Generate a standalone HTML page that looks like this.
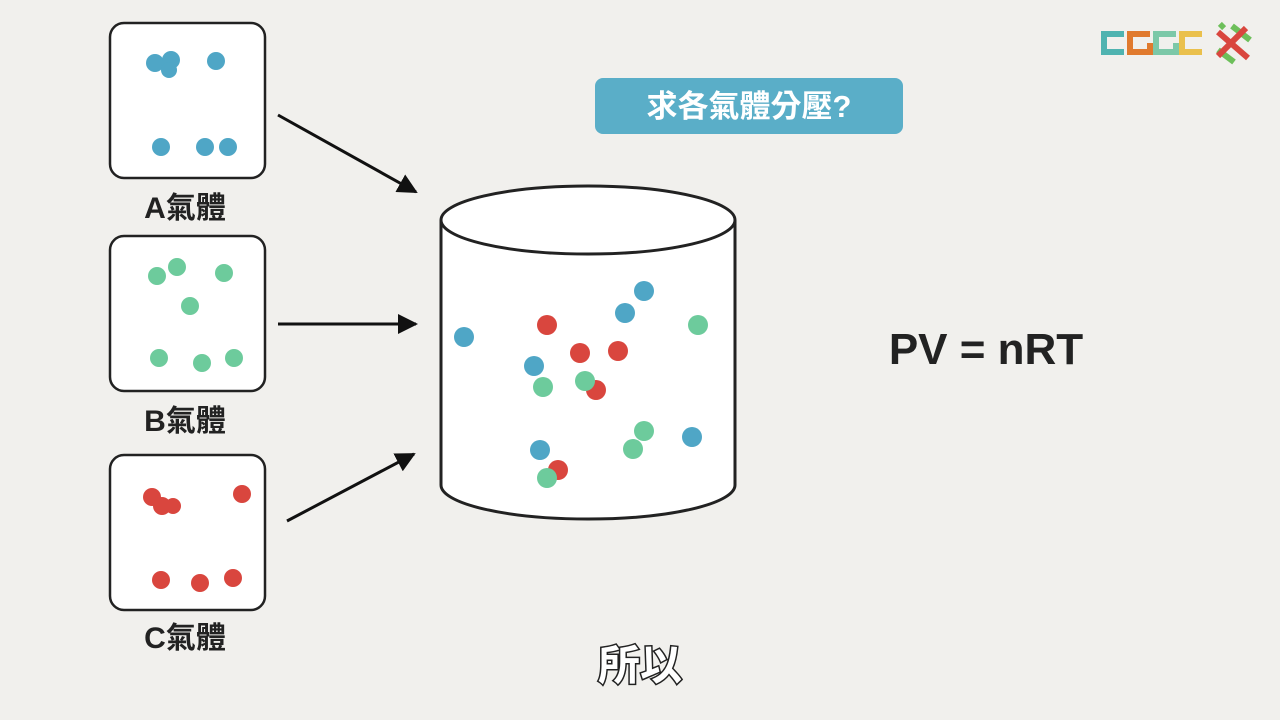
<!DOCTYPE html>
<html><head><meta charset="utf-8"><style>
body{margin:0;width:1280px;height:720px;background:#f1f0ed;overflow:hidden}
svg{display:block}
</style></head><body>
<svg width="1280" height="720" xmlns="http://www.w3.org/2000/svg">
<defs><marker id="ar" markerWidth="20" markerHeight="20" refX="18" refY="10" orient="auto" markerUnits="userSpaceOnUse" viewBox="0 0 20 20"><path d="M0,0 L20,10 L0,20 z" fill="#111"/></marker></defs>
<rect width="1280" height="720" fill="#f1f0ed"/>
<g fill="#fff" stroke="#222" stroke-width="2.5">
<rect x="110" y="23" width="155" height="155" rx="14"/>
<rect x="110" y="236" width="155" height="155" rx="14"/>
<rect x="110" y="455" width="155" height="155" rx="14"/>
</g>
<g fill="#4fa6c6"><circle cx="155" cy="63" r="9"/><circle cx="171" cy="60" r="9"/><circle cx="169" cy="70" r="8"/><circle cx="216" cy="61" r="9"/><circle cx="161" cy="147" r="9"/><circle cx="205" cy="147" r="9"/><circle cx="228" cy="147" r="9"/></g>
<g fill="#6dcb9c"><circle cx="157" cy="276" r="9"/><circle cx="177" cy="267" r="9"/><circle cx="224" cy="273" r="9"/><circle cx="190" cy="306" r="9"/><circle cx="159" cy="358" r="9"/><circle cx="202" cy="363" r="9"/><circle cx="234" cy="358" r="9"/></g>
<g fill="#d9463e"><circle cx="152" cy="497" r="9"/><circle cx="162" cy="506" r="9"/><circle cx="173" cy="506" r="8"/><circle cx="242" cy="494" r="9"/><circle cx="161" cy="580" r="9"/><circle cx="200" cy="583" r="9"/><circle cx="233" cy="578" r="9"/></g>
<g font-family="Liberation Sans,Noto Sans CJK TC,sans-serif" font-weight="bold" font-size="30" fill="#222" text-anchor="middle">
<text x="185" y="218">A氣體</text><text x="185" y="431">B氣體</text><text x="185" y="648">C氣體</text></g>
<g stroke="#111" stroke-width="3" marker-end="url(#ar)">
<line x1="278" y1="115" x2="416" y2="192"/>
<line x1="278" y1="324" x2="416" y2="324"/>
<line x1="287" y1="521" x2="414" y2="454"/>
</g>
<path d="M441,220 L441,485 A147,34 0 0 0 735,485 L735,220" fill="#fff" stroke="#222" stroke-width="3"/>
<ellipse cx="588" cy="220" rx="147" ry="34" fill="#fff" stroke="#222" stroke-width="3"/>
<g fill="#4fa6c6"><circle cx="464" cy="337" r="10"/><circle cx="644" cy="291" r="10"/><circle cx="625" cy="313" r="10"/><circle cx="534" cy="366" r="10"/><circle cx="692" cy="437" r="10"/><circle cx="540" cy="450" r="10"/></g>
<g fill="#d9463e"><circle cx="547" cy="325" r="10"/><circle cx="580" cy="353" r="10"/><circle cx="618" cy="351" r="10"/><circle cx="596" cy="390" r="10"/><circle cx="558" cy="470" r="10"/></g>
<g fill="#6dcb9c"><circle cx="698" cy="325" r="10"/><circle cx="543" cy="387" r="10"/><circle cx="585" cy="381" r="10"/><circle cx="644" cy="431" r="10"/><circle cx="633" cy="449" r="10"/><circle cx="547" cy="478" r="10"/></g>
<rect x="595" y="78" width="308" height="56" rx="8" fill="#5aaec8"/>
<text x="749" y="117" font-family="Liberation Sans,Noto Sans CJK TC,sans-serif" font-weight="bold" font-size="31" fill="#fff" text-anchor="middle">求各氣體分壓?</text>
<text x="986" y="364" font-family="Liberation Sans,sans-serif" font-weight="bold" font-size="44" fill="#222" text-anchor="middle">PV = nRT</text>
<text x="640" y="680" font-family="Liberation Sans,Noto Sans CJK TC,sans-serif" font-weight="bold" font-size="42" fill="#fff" stroke="#222" stroke-width="3" paint-order="stroke" text-anchor="middle">所以</text>
<g fill="none" stroke-width="6">
<path d="M1124,34 H1104 V52 H1124" stroke="#4fb3b0"/>
<path d="M1150,34 H1130 V52 H1150 V43" stroke="#e07a2e"/>
<path d="M1176,34 H1156 V52 H1176 V43" stroke="#7cc8a8"/>
<path d="M1202,34 H1182 V52 H1202" stroke="#eac04c"/>
</g>
<g stroke-width="6" stroke-linecap="butt">
<line x1="1218" y1="32" x2="1248" y2="58" stroke="#d9463e"/>
<line x1="1218" y1="50" x2="1234" y2="62" stroke="#6dbf5a"/>
<line x1="1232" y1="26" x2="1250" y2="40" stroke="#6dbf5a"/>
<line x1="1246" y1="28" x2="1218" y2="56" stroke="#d9463e"/>
<line x1="1224" y1="24" x2="1220" y2="28" stroke="#6dbf5a"/>
</g>
</svg>
</body></html>
